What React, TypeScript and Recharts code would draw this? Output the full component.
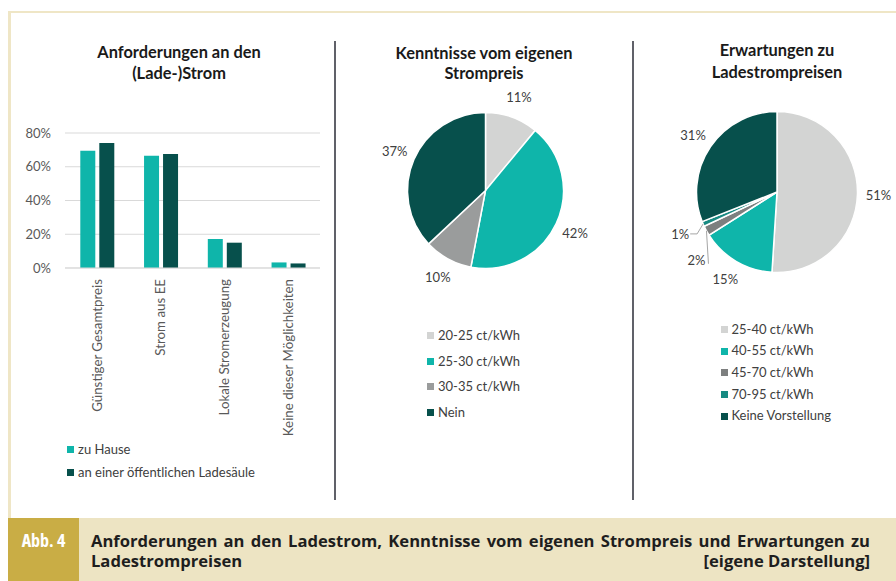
import React from 'react';
import { BarChart, Bar, XAxis, YAxis, CartesianGrid, Legend, PieChart, Pie, Cell } from 'recharts';

// ---------- data ----------
const barCategories = ['Günstiger Gesamtpreis', 'Strom aus EE', 'Lokale Stromerzeugung', 'Keine dieser Möglichkeiten'];
const zuHause = [0.695, 0.665, 0.172, 0.033];
const oeffentlich = [0.741, 0.676, 0.15, 0.027];
const barSeriesNames = ['zu Hause', 'an einer öffentlichen Ladesäule'];
const yTicks = [0, 0.2, 0.4, 0.6, 0.8];

const pie1Labels = ['20-25 ct/kWh', '25-30 ct/kWh', '30-35 ct/kWh', 'Nein'];
const pie1Values = [11, 42, 10, 37];
const pie2Labels = ['25-40 ct/kWh', '40-55 ct/kWh', '45-70 ct/kWh', '70-95 ct/kWh', 'Keine Vorstellung'];
const pie2Values = [51, 15, 2, 1, 31];

const titles = {
  bar: ['Anforderungen an den', '(Lade-)Strom'],
  pie1: ['Kenntnisse vom eigenen', 'Strompreis'],
  pie2: ['Erwartungen zu', 'Ladestrompreisen'],
};
const captionTag = 'Abb. 4';
const captionLine1 = 'Anforderungen an den Ladestrom, Kenntnisse vom eigenen Strompreis und Erwartungen zu';
const captionLine2 = 'Ladestrompreisen';
const captionSource = '[eigene Darstellung]';

// ---------- styles ----------
const TEAL = '#0fb5aa';
const DARK = '#07504c';
const LIGHTGRAY = '#d3d4d3';
const MIDGRAY = '#9a9c9c';
const DARKGRAY = '#7d7f7f';
const MIDTEAL = '#178a82';
const FONT = 'Lato, "Open Sans", sans-serif';
const CAPFONT = '"Open Sans", "Liberation Sans", Arial, sans-serif';
const TEXT = '#404040';

const pie1Colors = [LIGHTGRAY, TEAL, MIDGRAY, DARK];
const pie2Colors = [LIGHTGRAY, TEAL, DARKGRAY, MIDTEAL, DARK];

const barData = barCategories.map((name, i) => ({ name, home: zuHause[i], pub: oeffentlich[i] }));
const pie1Data = pie1Labels.map((name, i) => ({ name, value: pie1Values[i] }));
const pie2Data = pie2Labels.map((name, i) => ({ name, value: pie2Values[i] }));

const RADIAN = Math.PI / 180;

const RotatedTick = (props: any) => {
  const { x, y, payload } = props;
  return (
    <g transform={`translate(${x},${y})`}>
      <text transform="rotate(-90)" x={-3} y={0} dy="0.35em" textAnchor="end" fill="#595959" fontSize={13.3} fontFamily={FONT}>
        {payload.value}
      </text>
    </g>
  );
};

const makeLegend = (rowH: number, order: string[]) => (props: any) => {
  const items = [...(props.payload || [])].sort((a: any, b: any) => order.indexOf(a.value) - order.indexOf(b.value));
  return (
    <div style={{ fontFamily: FONT, fontSize: 13, color: TEXT }}>
      {items.map((p: any, i: number) => (
        <div key={i} style={{ height: rowH, lineHeight: rowH + 'px', display: 'flex', alignItems: 'center', whiteSpace: 'nowrap' }}>
          <span style={{ display: 'inline-block', width: 7, height: 7, background: p.color, marginRight: 4 }} />
          <span>{p.value}</span>
        </div>
      ))}
    </div>
  );
};

const pieLabel = (gap: number) => (props: any) => {
  const { cx, cy, midAngle, outerRadius, percent, value } = props;
  const cos = Math.cos(-midAngle * RADIAN);
  const sin = Math.sin(-midAngle * RADIAN);
  const ex = cx + outerRadius * cos;
  const ey = cy + outerRadius * sin;
  const txt = `${value}%`;
  const common = { fill: TEXT, fontSize: 13, fontFamily: FONT, dominantBaseline: 'central' as any };
  if (percent <= 0.015) {
    const lx = cx + (outerRadius + 25) * cos;
    const ly = cy + (outerRadius + 25) * sin;
    return (
      <g>
        <polyline points={`${ex},${ey} ${ex - 6},${ly} ${lx + 10},${ly}`} fill="none" stroke="#a6a6a6" strokeWidth={1} />
        <text x={lx} y={ly} textAnchor="middle" {...common}>{txt}</text>
      </g>
    );
  }
  if (percent <= 0.025) {
    return (
      <g>
        <line x1={ex} y1={ey} x2={ex + 2} y2={ey + 33} stroke="#a6a6a6" strokeWidth={1} />
        <text x={ex - 1} y={ey + 29} textAnchor="end" {...common}>{txt}</text>
      </g>
    );
  }
  const lx = cx + (outerRadius + gap) * cos;
  const ly = cy + (outerRadius + gap) * sin;
  return <text x={lx} y={ly} textAnchor="middle" {...common}>{txt}</text>;
};

const Title = ({ lines, left, top, lh }: { lines: string[]; left: number; top: number; lh: number }) => (
  <div style={{ position: 'absolute', left, top, width: 220, textAlign: 'center', fontFamily: FONT, fontWeight: 700, fontSize: 16.4, lineHeight: lh + 'px', color: '#1a1a1a' }}>
    {lines.map((l, i) => (
      <div key={i}>{l}</div>
    ))}
  </div>
);

export default function App() {
  return (
    <div style={{ position: 'absolute', left: 0, top: 0, width: 896, height: 581, overflow: 'hidden', background: '#fff' }}>
      {/* frame */}
      <div style={{ position: 'absolute', left: 8, top: 11, width: 900, height: 506, borderTop: '2.5px solid #efe6c6', borderLeft: '3.5px solid #efe6c6', borderBottom: '2.5px solid #efe6c6', boxSizing: 'content-box' }} />
      {/* dividers */}
      <div style={{ position: 'absolute', left: 334, top: 41, width: 2, height: 459, background: '#606169' }} />
      <div style={{ position: 'absolute', left: 632, top: 41, width: 2, height: 459, background: '#606169' }} />

      <Title lines={titles.bar} left={69} top={41} lh={21} />
      <Title lines={titles.pie1} left={374} top={42.5} lh={20.5} />
      <Title lines={titles.pie2} left={667} top={39} lh={22} />

      {/* bar chart */}
      <div style={{ position: 'absolute', left: 0, top: 0 }}>
        <BarChart width={335} height={500} data={barData} margin={{ top: 133, right: 15, left: 15, bottom: 62 }} barCategoryGap="24%" barGap={4}>
          <CartesianGrid vertical={false} stroke="#d9d9d9" />
          <YAxis
            width={50}
            domain={[0, 0.8]}
            ticks={yTicks}
            tickFormatter={(v: number) => `${Math.round(v * 100)}%`}
            tickLine={false}
            axisLine={false}
            tickMargin={8}
            tick={{ fill: '#595959', fontSize: 13, fontFamily: FONT }}
          />
          <XAxis dataKey="name" height={170} interval={0} tickLine={false} axisLine={{ stroke: '#d9d9d9' }} tick={<RotatedTick />} />
          <Bar dataKey="home" name={barSeriesNames[0]} fill={TEAL} isAnimationActive={false} />
          <Bar dataKey="pub" name={barSeriesNames[1]} fill={DARK} isAnimationActive={false} />
          <Legend layout="vertical" align="center" verticalAlign="middle" wrapperStyle={{ top: 438, left: 67, width: 260, height: 50 }} content={makeLegend(23, barSeriesNames)} />
        </BarChart>
      </div>

      {/* pie 1 */}
      <div style={{ position: 'absolute', left: 335, top: 0 }}>
        <PieChart width={298} height={500} margin={{ top: 0, right: 0, bottom: 0, left: 0 }}>
          <Pie
            data={pie1Data}
            dataKey="value"
            nameKey="name"
            cx={150.5}
            cy={190.5}
            outerRadius={78}
            startAngle={90}
            endAngle={-270}
            stroke="#ffffff"
            strokeWidth={1.5}
            label={pieLabel(21)}
            labelLine={false}
            isAnimationActive={false}
          >
            {pie1Data.map((d, i) => (
              <Cell key={d.name} fill={pie1Colors[i]} />
            ))}
          </Pie>
          <Legend layout="vertical" align="center" verticalAlign="middle" wrapperStyle={{ top: 323, left: 92, width: 180, height: 110 }} content={makeLegend(25.5, pie1Labels)} />
        </PieChart>
      </div>

      {/* pie 2 */}
      <div style={{ position: 'absolute', left: 633, top: 0 }}>
        <PieChart width={263} height={500} margin={{ top: 0, right: 0, bottom: 0, left: 0 }}>
          <Pie
            data={pie2Data}
            dataKey="value"
            nameKey="name"
            cx={144}
            cy={192}
            outerRadius={80.5}
            startAngle={90}
            endAngle={-270}
            stroke="#ffffff"
            strokeWidth={1.5}
            label={pieLabel(21)}
            labelLine={false}
            isAnimationActive={false}
          >
            {pie2Data.map((d, i) => (
              <Cell key={d.name} fill={pie2Colors[i]} />
            ))}
          </Pie>
          <Legend layout="vertical" align="center" verticalAlign="middle" wrapperStyle={{ top: 318.5, left: 87.5, width: 170, height: 115 }} content={makeLegend(21.7, pie2Labels)} />
        </PieChart>
      </div>

      {/* caption */}
      <div style={{ position: 'absolute', left: 8, top: 518, width: 888, height: 63, background: '#ede4c3' }} />
      <div style={{ position: 'absolute', left: 8, top: 518, width: 71, height: 63, background: '#c9ad45' }} />
      <div style={{ position: 'absolute', left: 8, top: 529.5, width: 71, textAlign: 'center', color: '#fff', fontFamily: CAPFONT, fontStretch: '85%', fontWeight: 700, fontSize: 18, lineHeight: '21px' }}>
        {captionTag}
      </div>
      <div style={{ position: 'absolute', left: 91, top: 530.5, width: 779, color: '#1e1e1e', fontFamily: CAPFONT, fontStretch: '91%', fontWeight: 700, fontSize: 16.6, lineHeight: '20.5px' }}>
        <div style={{ textAlign: 'justify', textAlignLast: 'justify' as any, whiteSpace: 'nowrap' }}>{captionLine1}</div>
        <div style={{ display: 'flex', justifyContent: 'space-between' }}>
          <span>{captionLine2}</span>
          <span>{captionSource}</span>
        </div>
      </div>
    </div>
  );
}
